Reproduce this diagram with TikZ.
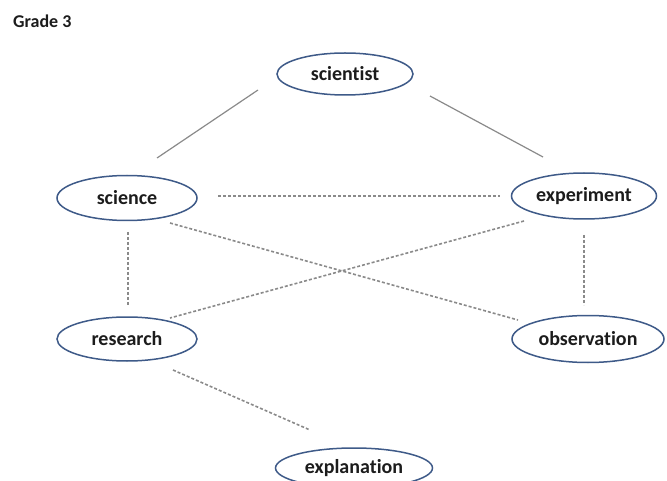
\documentclass[tikz,border=0pt]{standalone}
\usepackage{fontspec}
\setmainfont[Ligatures=NoCommon]{Carlito}
\usetikzlibrary{shapes.geometric,calc}
\definecolor{rim}{HTML}{3E5A88}
\definecolor{link}{HTML}{8A8A8A}
\definecolor{ink}{HTML}{1C1C1C}
\tikzset{
  term/.style={ellipse, draw=rim, line width=1.5pt, fill=white, inner sep=0pt,
    text=ink, font=\bfseries\fontsize{20}{24}\selectfont},
  solidlink/.style={draw=link, line width=1.2pt},
  dashlink/.style={draw=link, line width=1.6pt, dash pattern=on 3pt off 2pt},
}
\begin{document}
\begin{tikzpicture}[x=1pt,y=-1pt]
  \useasboundingbox (0,0) rectangle (667,481);
  \node[text=ink, font=\bfseries\fontsize{18}{22}\selectfont, anchor=west, inner sep=0pt] (title) at (13,21) {Grade 3};

  \node[term, minimum width=136pt, minimum height=42pt] (scientist) at (345,74) {scientist};
  \node[term, minimum width=140pt, minimum height=45pt] (science) at (127,198) {science};
  \node[term, minimum width=145pt, minimum height=46pt] (experiment) at (584,196) {experiment};
  \node[term, minimum width=140pt, minimum height=44pt] (research) at (127,339) {research};
  \node[term, minimum width=152pt, minimum height=47pt] (observation) at (588,339) {observation};
  \node[term, minimum width=157pt, minimum height=40pt] (explanation) at (354,468) {explanation};

  % solid links from the top term
  \draw[solidlink] ($(scientist.center)+(-87,16)$) -- ($(science.center)+(30,-40)$);
  \draw[solidlink] ($(scientist.center)+(85,22)$) -- ($(experiment.center)+(-41,-39)$);

  % dashed links between the lower terms
  \draw[dashlink] ($(science.center)+(91,-2)$) -- ($(experiment.center)+(-84,0)$);
  \draw[dashlink] ($(science.center)+(43,25)$) -- ($(observation.center)+(-70,-19)$);
  \draw[dashlink] ($(experiment.center)+(-60,25)$) -- ($(research.center)+(43,-21)$);
  \draw[dashlink] ($(science.center)+(1,34)$) -- ($(research.center)+(1,-34)$);
  \draw[dashlink] ($(experiment.center)+(0,39)$) -- ($(observation.center)+(-4,-34)$);
  \draw[dashlink] ($(research.center)+(46,31)$) -- ($(explanation.center)+(-44,-38)$);
\end{tikzpicture}
\end{document}
